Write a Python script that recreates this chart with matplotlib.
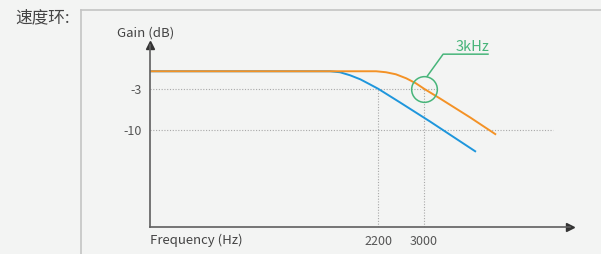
import matplotlib
matplotlib.use("Agg")
import matplotlib.pyplot as plt
from matplotlib.lines import Line2D
from matplotlib.ticker import NullLocator

plt.rcParams['font.family'] = ['Noto Sans CJK SC', 'DejaVu Sans']

# data (frequency in Hz, gain in dB)
blue_freq = [470, 1590, 1700, 1820, 1950, 2080, 2200, 2550, 3125, 4260]
blue_gain = [0, 0, -0.17, -0.69, -1.38, -2.24, -3, -5.34, -8.62, -13.8]
orange_freq = [470, 2170, 2320, 2480, 2660, 2840, 3000, 3340, 4100, 4880]
orange_gain = [0, 0, -0.17, -0.52, -1.21, -2.07, -3, -4.66, -7.93, -10.86]

ytick_vals = [-3, -10]
ytick_labels = ['-3', '-10']
xtick_vals = [2200, 3000]
xtick_labels = ['2200', '3000']
grid_ends = {-3: 3280, -10: 7170}
marker_freq = 3000
marker_gain = -3
marker_text = '3kHz'

bg = '#f3f4f3'
orange = '#f39226'
blue = '#1e96dc'
green = '#47b57a'
grid_c = '#a8a8a8'
axis_c = '#5f5f5f'
text_c = '#555555'

W, H = 601, 254
fig = plt.figure(figsize=(W / 100, H / 100), dpi=100, facecolor=bg)

# outer frame (top and left edges visible)
fig.add_artist(Line2D([81 / W, 81 / W], [0, 1 - 10 / H], color='#c4c4c4', lw=1.2))
fig.add_artist(Line2D([81 / W, 1], [1 - 10 / H, 1 - 10 / H], color='#c4c4c4', lw=1.2))

fig.text(15 / W, 1 - 18 / H, '速度环:', fontsize=12, color='#444444', ha='left', va='center')

ax = fig.add_axes([150 / W, (H - 226.5) / H, 420 / W, 181.5 / H])
ax.set_facecolor(bg)
ax.set_xscale('log')
ax.set_xlim(471, 8040)
ax.set_ylim(-26.6, 4.5)

for s in ['top', 'right']:
    ax.spines[s].set_visible(False)
for s in ['left', 'bottom']:
    ax.spines[s].set_color(axis_c)
    ax.spines[s].set_linewidth(1.2)
ax.plot(1, 0, '>', color='#333333', ms=6, transform=ax.transAxes, clip_on=False)
ax.plot(0, 1, '^', color='#333333', ms=6, transform=ax.transAxes, clip_on=False)

ax.xaxis.set_minor_locator(NullLocator())
ax.set_xticks(xtick_vals)
ax.set_xticklabels(xtick_labels)
ax.set_yticks(ytick_vals)
ax.set_yticklabels(ytick_labels)
ax.tick_params(length=0, labelsize=9, labelcolor=text_c)
ax.tick_params(axis='x', pad=6)
ax.tick_params(axis='y', pad=6)

# dotted guides
for v in ytick_vals:
    ax.plot([471, grid_ends[v]], [v, v], ls=(0, (1, 1.5)), color=grid_c, lw=0.8)
for f in xtick_vals:
    ax.plot([f, f], [-26.6, -3], ls=(0, (1, 1.5)), color=grid_c, lw=0.8)

ax.plot(blue_freq, blue_gain, color=blue, lw=1.4, solid_capstyle='butt')
ax.plot(orange_freq, orange_gain, color=orange, lw=1.4, solid_capstyle='butt')

# highlight circle + leader
ax.plot(marker_freq, marker_gain, 'o', ms=18.5, mfc='none', mec=green, mew=1.1)
ax.plot([3063, 3412, 4620], [-0.86, 2.93, 2.93], color=green, lw=1.1)
ax.text(4150, 4.2, marker_text, color=green, fontsize=10.5, ha='center', va='center')

fig.text(150 / W, 1 - 240 / H, 'Frequency (Hz)', fontsize=9.5, color='#444444', ha='left', va='center')
fig.text(146 / W, 1 - 33 / H, 'Gain (dB)', fontsize=9.5, color='#444444', ha='center', va='center')

fig.savefig('out.png', dpi=100, facecolor=bg)
